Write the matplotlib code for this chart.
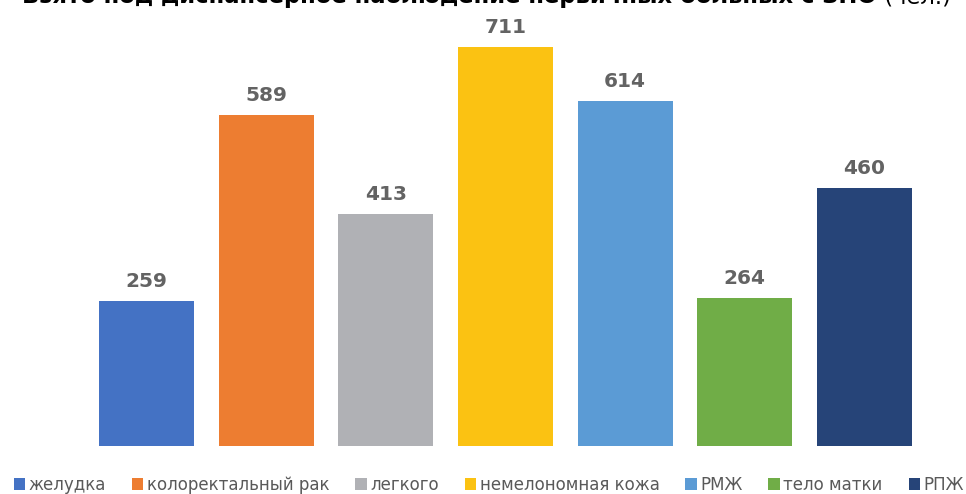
import matplotlib
matplotlib.use("Agg")
import matplotlib.pyplot as plt
from matplotlib.patches import Patch

categories = ["желудка", "колоректальный рак", "легкого", "немелономная кожа", "РМЖ", "тело матки", "РПЖ"]
values = [259, 589, 413, 711, 614, 264, 460]
colors = ["#4472C4", "#ED7D31", "#B0B1B5", "#FBC212", "#5B9BD5", "#70AD47", "#264478"]
title_bold = "Взято под диспансерное наблюдение первичных больных с ЗНО"
title_normal = " (чел.)"

W, H = 966, 494
fig = plt.figure(figsize=(W / 100, H / 100), dpi=100)

# axes: x from 87 to 924 px, baseline at y=446, 711 at y=47
ax_left, ax_right = 87, 924
base_y = 446
top_y = 20
ax = fig.add_axes([ax_left / W, (H - base_y) / H, (ax_right - ax_left) / W, (base_y - top_y) / H])
scale = (446 - 47) / 711.0
ax.set_ylim(0, (base_y - top_y) / scale)
ax.set_xlim(-0.5, len(values) - 0.5)
x = list(range(len(values)))
bars = ax.bar(x, values, width=0.795, color=colors)
for xi, v in zip(x, values):
    ax.annotate(str(v), (xi, v), xytext=(0, 14), textcoords="offset pixels",
                ha="center", va="baseline", fontsize=14.5, fontweight="bold", color="#636363")
ax.axis("off")

handles = [Patch(facecolor=c, edgecolor="none") for c in colors]
leg = fig.legend(handles, categories, ncol=7, loc="center", bbox_to_anchor=(0.506, (H - 485) / H),
                 frameon=False, fontsize=12, handlelength=0.7, handleheight=0.7, handletextpad=0.2,
                 columnspacing=1.55, labelcolor="#595959", borderaxespad=0, borderpad=0)

t1 = fig.text(22 / W, 1 - 3.5 / H, title_bold, fontsize=16.3, fontweight="bold", color="#000000",
              ha="left", va="baseline")
fig.canvas.draw()
r = fig.canvas.get_renderer()
bb = t1.get_window_extent(r)
fig.text(bb.x1 / W, 1 - 3.5 / H, title_normal, fontsize=16.3, color="#000000", ha="left", va="baseline")

fig.savefig("out.png", dpi=100)
